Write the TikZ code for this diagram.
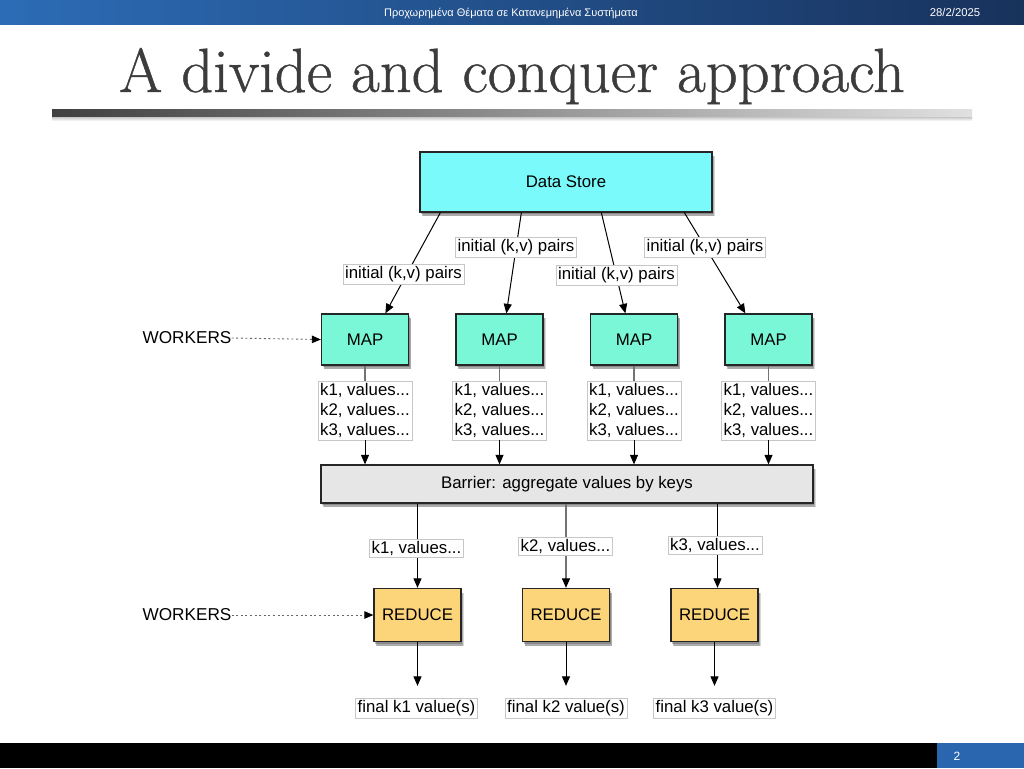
\documentclass[tikz,border=0pt]{standalone}
\usepackage{fontspec}
\newfontfamily\sans{Liberation Sans}
\newfontfamily\titlefont[FakeBold=0.7]{Latin Modern Roman}
\usetikzlibrary{arrows.meta,shadows,calc}
\definecolor{dscyan}{RGB}{122,250,250}
\definecolor{mapgreen}{RGB}{122,247,214}
\definecolor{redyel}{RGB}{252,212,122}
\definecolor{bargray}{RGB}{230,230,230}
\definecolor{hdrL}{RGB}{44,108,182}
\definecolor{hdrR}{RGB}{24,50,92}
\definecolor{ftblue}{RGB}{42,102,176}
\definecolor{titlegray}{RGB}{60,60,60}
\tikzset{
  box/.style={draw=black!85, line width=1.3pt, inner sep=0pt,
    double copy shadow={shadow xshift=1pt, shadow yshift=-2pt, opacity=0.25, draw=none, fill=black},
    drop shadow={shadow xshift=2.5pt, shadow yshift=-4pt, opacity=0.3},
    font=\sans\fontsize{16.8}{19}\selectfont},
  lab/.style={draw=black!22, line width=0.6pt, fill=white, inner sep=2pt,
    font=\sans\fontsize{16.8}{20}\selectfont},
  arr/.style={-{Triangle[length=9.5pt,width=8pt,black]}, line width=1pt},
  wk/.style={font=\sans\fontsize{17.2}{19}\selectfont, inner sep=0pt},
  dots/.style={draw=black!60, line width=0.9pt, dash pattern=on 2pt off 2.6pt,
    -{Triangle[length=9pt,width=7.5pt,black]}},
}
\begin{document}
\begin{tikzpicture}[x=1pt,y=-1pt]
\useasboundingbox (0,0) rectangle (1024,768);
\fill[white] (0,0) rectangle (1024,768);
% header
\shade[left color=hdrL, right color=hdrR] (0,0) rectangle (1024,25);
\node[text=white, font=\sans\fontsize{11}{12}\selectfont] (hdr) at (511,13) {Προχωρημένα Θέματα σε Κατανεμημένα Συστήματα};
\node[text=white, font=\sans\fontsize{11.3}{12}\selectfont] (date) at (955,12) {28/2/2025};
% title
\node[text=titlegray, font=\titlefont\fontsize{62.5}{65}\selectfont, anchor=base, inner sep=0pt] (title) at (512,92) {A divide and conquer approach};
\shade[left color=black!75, right color=black!12] (52,109) rectangle (972,117);
\shade[top color=black!22, bottom color=white] (52,117) rectangle (972,121);
% footer
\fill[black] (0,743) rectangle (1024,768);
\fill[ftblue] (937,743) rectangle (1024,768);
\node[text=white, font=\sans\fontsize{12}{13}\selectfont] (pg) at (957,756) {2};

% boxes
\node[box, fill=dscyan, minimum width=292pt, minimum height=60pt] (ds) at (566,182) {Data Store};
\foreach \i/\x in {1/365,2/499.5,3/634,4/768.5}{
  \node[box, fill=mapgreen, minimum width=87pt, minimum height=51pt] (m\i) at (\x,339.5) {MAP};
}
\node[box, fill=bargray, minimum width=492pt, minimum height=38pt] (bar) at (567,484) {Barrier: aggregate values by keys};
\foreach \i/\x in {1/417.5,2/566,3/714.5}{
  \node[box, fill=redyel, minimum width=87pt, minimum height=53pt] (r\i) at (\x,615) {REDUCE};
}

% data store to maps
\draw[arr] ([xshift=21pt]ds.south west) -- ([xshift=64.5pt]m1.north west);
\draw[arr] ([xshift=102pt]ds.south west) -- ([xshift=51pt]m2.north west);
\draw[arr] ([xshift=182pt]ds.south west) -- ([xshift=35.5pt]m3.north west);
\draw[arr] ([xshift=265pt]ds.south west) -- ([xshift=21pt]m4.north west);
\node[lab] (l1) at (403.5,274) {initial (k,v) pairs};
\node[lab] (l2) at (516,247) {initial (k,v) pairs};
\node[lab] (l3) at (616.5,275.5) {initial (k,v) pairs};
\node[lab] (l4) at (705,247) {initial (k,v) pairs};

% maps to barrier
\foreach \i in {1,2,3,4}{
  \node[lab, align=left] (kv\i) at ($(m\i.south)+(0,45)$) {k1, values...\\k2, values...\\k3, values...};
  \draw[black!55, line width=1.2pt] (m\i.south) -- (kv\i.north);
  \draw[arr] (kv\i.south) -- (m\i.south |- bar.north);
}

% barrier to reduce
\draw[arr] (bar.south -| r1.north) -- (r1.north);
\draw[arr, black!55, line width=1.2pt] (bar.south -| r2.north) -- (r2.north);
\draw[arr] ([xshift=3pt]bar.south -| r3.north) -- ([xshift=3pt]r3.north);
\node[lab] (kk1) at (416.5,548) {k1, values...};
\node[lab] (kk2) at (565.5,546.5) {k2, values...};
\node[lab] (kk3) at (715,545) {k3, values...};

% reduce to final
\node[lab] (f1) at (416.5,708) {final k1 value(s)};
\node[lab] (f2) at (566,708) {final k2 value(s)};
\node[lab] (f3) at (714.5,708) {final k3 value(s)};
\foreach \i in {1,2,3}{
  \draw[arr] (r\i.south) -- ($(r\i.south |- f\i.north)+(0,-12)$);
}

% workers
\node[wk] (w1) at (187,338) {WORKERS};
\node[wk] (w2) at (187,615) {WORKERS};
\draw[dots] (w1.east) -- (m1.west);
\draw[dots] (w2.east) -- (r1.west);
\end{tikzpicture}
\end{document}
